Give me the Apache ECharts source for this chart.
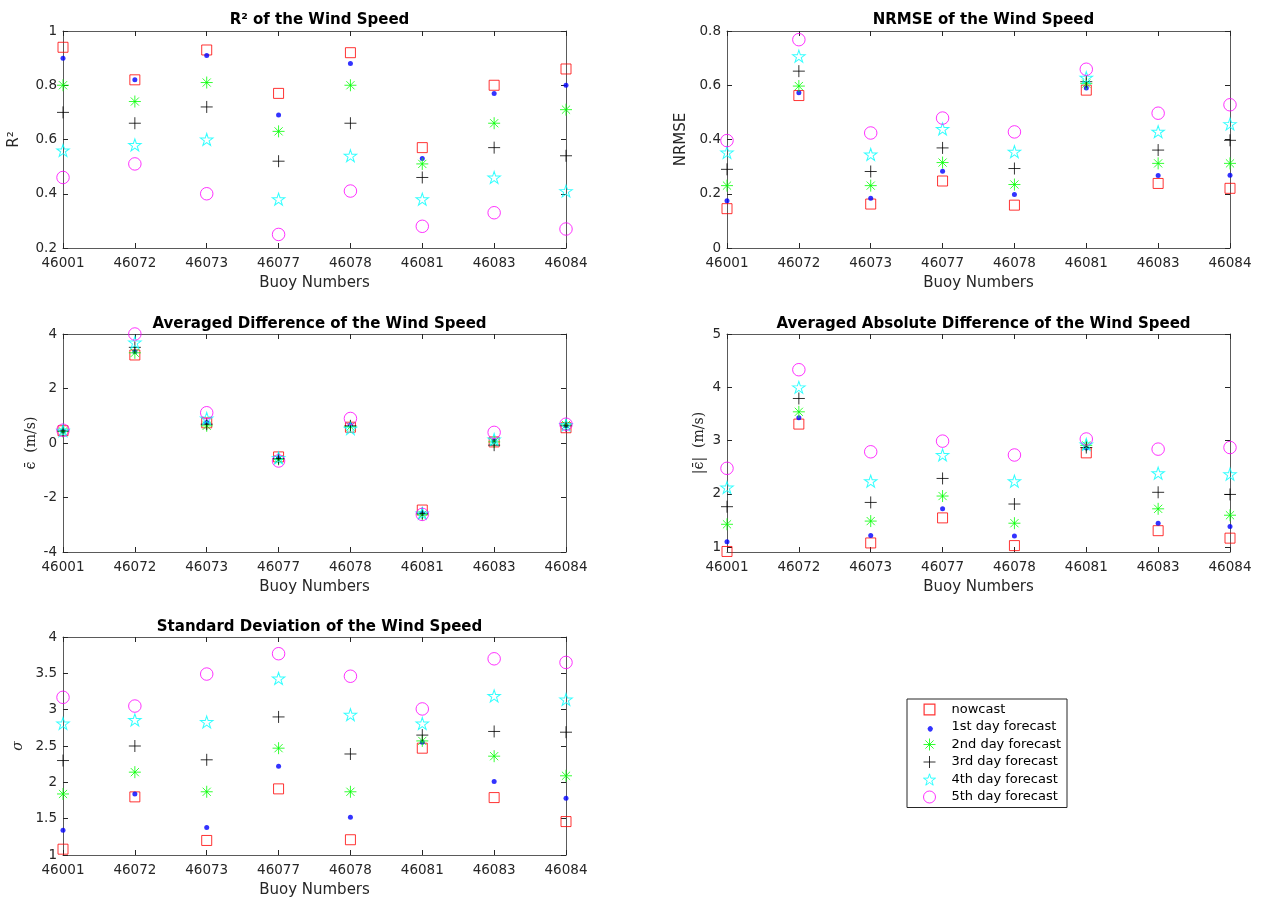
<!DOCTYPE html>
<html>
<head>
<meta charset="utf-8">
<script src="https://cdn.jsdelivr.net/npm/echarts@6/dist/echarts.min.js"></script>
<style>
html,body{margin:0;padding:0;background:#fff;}
#chart{width:1267px;height:899px;}
</style>
</head>
<body>
<div id="chart"></div>
<script>
// ---------- DATA ----------
var buoys = ['46001','46072','46073','46077','46078','46081','46083','46084'];
var seriesNames = ['nowcast','1st day forecast','2nd day forecast','3rd day forecast','4th day forecast','5th day forecast'];

// R^2
var r2_now  = [0.94,0.82,0.93,0.77,0.92,0.57,0.80,0.86];
var r2_d1   = [0.90,0.82,0.91,0.69,0.88,0.53,0.77,0.80];
var r2_d2   = [0.80,0.74,0.81,0.63,0.80,0.51,0.66,0.71];
var r2_d3   = [0.70,0.66,0.72,0.52,0.66,0.46,0.57,0.54];
var r2_d4   = [0.56,0.58,0.60,0.38,0.54,0.38,0.46,0.41];
var r2_d5   = [0.46,0.51,0.40,0.25,0.41,0.28,0.33,0.27];

// NRMSE
var nr_now  = [0.145,0.562,0.162,0.247,0.158,0.582,0.238,0.220];
var nr_d1   = [0.174,0.572,0.183,0.283,0.197,0.590,0.267,0.268];
var nr_d2   = [0.230,0.597,0.230,0.315,0.234,0.606,0.312,0.312];
var nr_d3   = [0.290,0.652,0.282,0.369,0.293,0.613,0.361,0.397];
var nr_d4   = [0.352,0.707,0.345,0.439,0.355,0.628,0.429,0.457];
var nr_d5   = [0.396,0.768,0.424,0.479,0.428,0.659,0.497,0.528];

// Averaged difference (m/s)
var md_now  = [0.45,3.23,0.74,-0.51,0.58,-2.46,0.04,0.56];
var md_d1   = [0.44,3.35,0.75,-0.55,0.66,-2.58,0.07,0.63];
var md_d2   = [0.42,3.31,0.63,-0.60,0.60,-2.63,0.04,0.66];
var md_d3   = [0.44,3.51,0.69,-0.57,0.63,-2.58,-0.08,0.63];
var md_d4   = [0.45,3.69,0.90,-0.55,0.53,-2.58,0.13,0.66];
var md_d5   = [0.47,4.00,1.11,-0.66,0.90,-2.62,0.39,0.69];

// Averaged absolute difference (m/s)
var ad_now  = [0.92,3.31,1.08,1.55,1.03,2.77,1.31,1.17];
var ad_d1   = [1.10,3.43,1.22,1.72,1.21,2.86,1.45,1.39];
var ad_d2   = [1.43,3.54,1.49,1.96,1.45,2.91,1.72,1.60];
var ad_d3   = [1.76,3.79,1.84,2.29,1.81,2.87,2.03,1.99];
var ad_d4   = [2.12,4.00,2.24,2.73,2.24,2.93,2.39,2.37];
var ad_d5   = [2.48,4.33,2.79,2.99,2.73,3.03,2.84,2.87];

// Standard deviation
var sd_now  = [1.08,1.80,1.20,1.91,1.21,2.47,1.79,1.46];
var sd_d1   = [1.34,1.84,1.38,2.22,1.52,2.55,2.01,1.78];
var sd_d2   = [1.84,2.14,1.87,2.47,1.87,2.57,2.36,2.09];
var sd_d3   = [2.30,2.50,2.31,2.90,2.39,2.65,2.70,2.69];
var sd_d4   = [2.81,2.86,2.83,3.43,2.93,2.81,3.19,3.14];
var sd_d5   = [3.17,3.05,3.49,3.77,3.46,3.01,3.70,3.65];

var r2Ticks = [0.2,0.4,0.6,0.8,1];
var nrTicks = [0,0.2,0.4,0.6,0.8];
var mdTicks = [-4,-2,0,2,4];
var adTicks = [1,2,3,4,5];
var sdTicks = [1,1.5,2,2.5,3,3.5,4];

// ---------- STYLE ----------
var AX = '#262626';
var AXL = '#5a5a5a';
var FONT = 'DejaVu Sans';

var rectPath = 'path://M0,0L10,0L10,10L0,10Z';
var rectRingPath = 'path://M0,0L10,0L10,10L0,10ZM1,1L1,9L9,9L9,1Z';
var starPath = 'path://M5,0L6.123,3.455L9.755,3.455L6.816,5.59L7.939,9.045L5,6.91L2.061,9.045L3.184,5.59L0.245,3.455L3.877,3.455Z';
var plusPath = 'path://M5,0L5,10M0,5L10,5';
var astPath = 'path://M5,0L5,10M0,5L10,5M1.6,1.6L8.4,8.4M8.4,1.6L1.6,8.4';
var dotLegendPath = 'path://M0,0L0.01,0M10,10L10.01,10M7.2,5A2.2,2.2,0,1,1,7.19,4.99Z';

var markerColors = ['#ff0000','#0000ff','#00ff00','#000000','#00ffff','#ff00ff'];
var markerSymbols = [rectPath,'circle',astPath,plusPath,starPath,'circle'];
var markerSizes = [10,5,12,12,[12.5,12],12.5];

function itemStyleFor(i){
  if (i === 1) return {color:markerColors[i], borderWidth:0};
  return {color:'rgba(0,0,0,0)', borderColor:markerColors[i], borderWidth:1};
}
function legendStyleFor(i){
  if (i === 0 || i === 1) return {color:markerColors[i], borderColor:markerColors[i], borderWidth:0};
  return itemStyleFor(i);
}

var panels = [
  {title:'R² of the Wind Speed', grid:{left:63, top:31, width:503, height:217},
   min:0.2, max:1, ticks:r2Ticks, name:'R²', nameGap:41, nameFont:FONT, nameSize:15, nameStyle:'normal',
   data:[r2_now,r2_d1,r2_d2,r2_d3,r2_d4,r2_d5], titleTop:8},
  {title:'NRMSE of the Wind Speed', grid:{left:727, top:31, width:503, height:217},
   min:0, max:0.8, ticks:nrTicks, name:'NRMSE', nameGap:38, nameFont:FONT, nameSize:15, nameStyle:'normal',
   data:[nr_now,nr_d1,nr_d2,nr_d3,nr_d4,nr_d5], titleTop:8},
  {title:'Averaged Difference of the Wind Speed', grid:{left:63, top:334, width:503, height:218},
   min:-4, max:4, ticks:mdTicks, name:'ϵ̄  (m/s)', nameGap:25, nameFont:'DejaVu Serif', nameSize:14, nameStyle:'normal',
   data:[md_now,md_d1,md_d2,md_d3,md_d4,md_d5], titleTop:312},
  {title:'Averaged Absolute Difference of the Wind Speed', grid:{left:727, top:334, width:503, height:218},
   min:0.91, max:5, ticks:adTicks, name:'|ϵ̄|  (m/s)', nameGap:21, nameFont:'DejaVu Serif', nameSize:14, nameStyle:'normal',
   data:[ad_now,ad_d1,ad_d2,ad_d3,ad_d4,ad_d5], titleTop:312},
  {title:'Standard Deviation of the Wind Speed', grid:{left:63, top:637, width:503, height:218},
   min:1, max:4, ticks:sdTicks, name:'σ', nameGap:38, nameFont:'DejaVu Serif', nameSize:14, nameStyle:'italic',
   data:[sd_now,sd_d1,sd_d2,sd_d3,sd_d4,sd_d5], titleTop:615}
];

var option = {
  backgroundColor:'#ffffff',
  animation:false,
  title:[], grid:[], xAxis:[], yAxis:[], series:[],
  legend:{
    orient:'vertical', left:907, top:699,
    borderColor:AX, borderWidth:1, borderRadius:0,
    padding:[4,6,4,16], itemGap:4.5, itemWidth:12, itemHeight:12.5,
    textStyle:{fontFamily:FONT, fontSize:13, color:'#000', padding:[0,0,0,11]},
    selectedMode:false,
    data: seriesNames.map(function(n,i){
      var icon = (i===0) ? rectRingPath : (i===1) ? dotLegendPath : markerSymbols[i];
      return {name:n, icon:icon, itemStyle:legendStyleFor(i)};
    })
  }
};

panels.forEach(function(p, gi){
  var cx = p.grid.left + p.grid.width/2;
  option.title.push({
    text:p.title, left:cx, top:p.titleTop, textAlign:'center',
    textStyle:{fontFamily:FONT, fontWeight:'bold', fontSize:15, color:'#000'}
  });
  option.grid.push({left:p.grid.left, top:p.grid.top, width:p.grid.width, height:p.grid.height, containLabel:false});
  option.xAxis.push({
    type:'category', data:buoys, gridIndex:gi, boundaryGap:false, position:'bottom',
    axisLine:{onZero:false, lineStyle:{color:AXL, width:1}},
    axisTick:{inside:true, length:5, lineStyle:{color:AX}},
    axisLabel:{fontFamily:FONT, fontSize:13.5, color:AX, margin:8, interval:0},
    splitLine:{show:false},
    name:'Buoy Numbers', nameLocation:'middle', nameGap:28,
    nameTextStyle:{fontFamily:FONT, fontSize:15, color:AX}
  });
  option.xAxis.push({
    type:'category', data:buoys, gridIndex:gi, boundaryGap:false, position:'top',
    axisLine:{onZero:false, lineStyle:{color:AXL, width:1}},
    axisTick:{inside:true, length:5, lineStyle:{color:AX}},
    axisLabel:{show:false}, splitLine:{show:false}
  });
  var yBase = {
    type:'value', gridIndex:gi, min:p.min, max:p.max,
    axisLine:{show:true, onZero:false, lineStyle:{color:AXL, width:1}},
    axisTick:{show:true, inside:true, length:5, lineStyle:{color:AX}, customValues:p.ticks},
    splitLine:{show:false}
  };
  var yl = Object.assign({}, yBase, {
    position:'left',
    axisLabel:{fontFamily:FONT, fontSize:13.5, color:AX, margin:6, customValues:p.ticks},
    name:p.name, nameLocation:'middle', nameRotate:90, nameGap:p.nameGap,
    nameTextStyle:{fontFamily:p.nameFont, fontSize:p.nameSize, fontStyle:p.nameStyle, color:AX}
  });
  var yr = Object.assign({}, yBase, {position:'right', axisLabel:{show:false}});
  option.yAxis.push(yl);
  option.yAxis.push(yr);
  var xi = gi*2, yi = gi*2;
  p.data.forEach(function(arr, si){
    option.series.push({
      type:'scatter', name:seriesNames[si], xAxisIndex:xi, yAxisIndex:yi,
      symbol:markerSymbols[si], symbolSize:markerSizes[si], itemStyle:itemStyleFor(si),
      data:arr, clip:false, silent:true, z:2+si
    });
  });
});

var chart = echarts.init(document.getElementById('chart'), null, {renderer:'canvas'});
chart.setOption(option);
</script>
</body>
</html>
